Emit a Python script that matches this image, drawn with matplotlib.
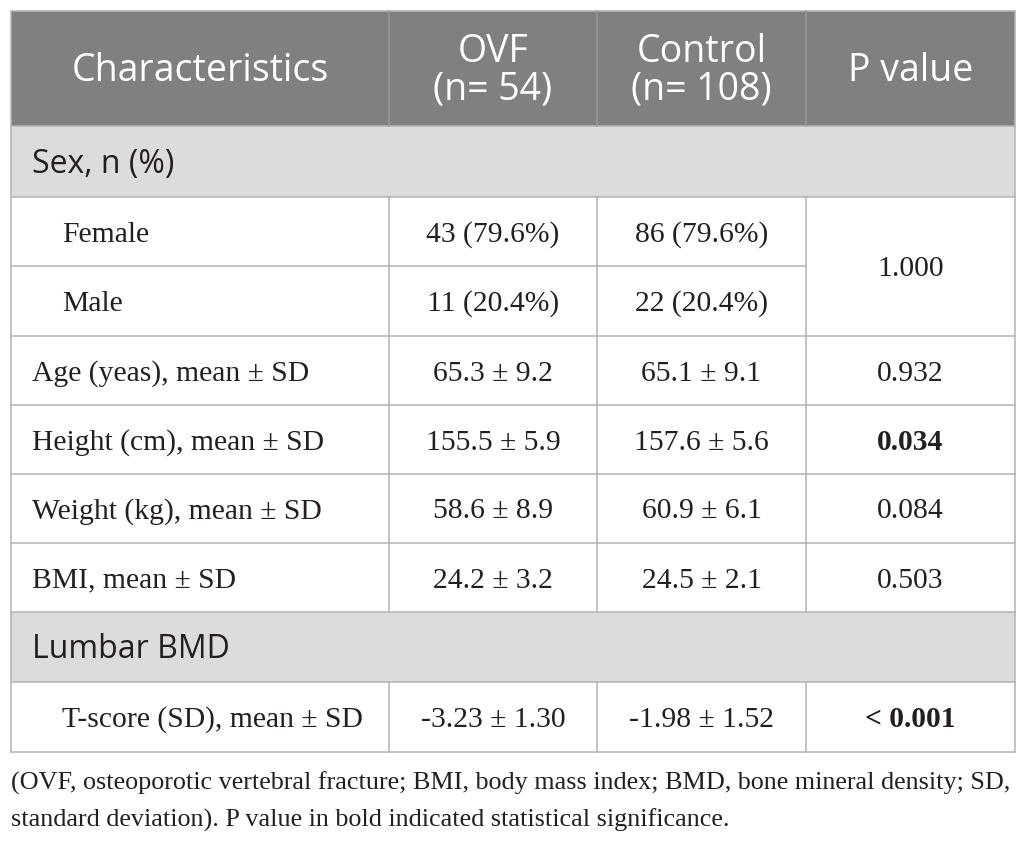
import matplotlib
matplotlib.use("Agg")
import matplotlib.pyplot as plt
from matplotlib.patches import Rectangle

# ---- data ----
header_labels = ["Characteristics", "OVF\n(n= 54)", "Control\n(n= 108)", "P value"]
characteristics = ["Sex, n (%)", "Female", "Male", "Age (yeas), mean ± SD",
                   "Height (cm), mean ± SD", "Weight (kg), mean ± SD",
                   "BMI, mean ± SD", "Lumbar BMD", "T-score (SD), mean ± SD"]
row_kind = ["section", "sub", "sub", "item", "item", "item", "item", "section", "sub"]
ovf_values = ["", "43 (79.6%)", "11 (20.4%)", "65.3 ± 9.2", "155.5 ± 5.9",
              "58.6 ± 8.9", "24.2 ± 3.2", "", "-3.23 ± 1.30"]
control_values = ["", "86 (79.6%)", "22 (20.4%)", "65.1 ± 9.1", "157.6 ± 5.6",
                  "60.9 ± 6.1", "24.5 ± 2.1", "", "-1.98 ± 1.52"]
p_values = ["", "1.000", None, "0.932", "0.034", "0.084", "0.503", "", "< 0.001"]
p_bold = [False, False, False, False, True, False, False, False, True]
footnote_lines = [
    "(OVF, osteoporotic vertebral fracture; BMI, body mass index; BMD, bone mineral density; SD,",
    "standard deviation). P value in bold indicated statistical significance.",
]

# ---- layout (pixel coordinates) ----
W, H = 1026, 841
col_x = [11, 389, 597, 806, 1015]
row_y = [11, 126, 197, 266, 336, 405, 474, 543, 612, 682, 752]

HEADER_BG = "#808080"
SECTION_BG = "#dcdcdc"
GRID = "#b3b3b3"
TEXT = "#231f20"
SANS = "Open Sans"
SERIF = "Liberation Serif"
BODY_FS = 21.3

fig = plt.figure(figsize=(W / 100, H / 100), dpi=100)
ax = fig.add_axes([0, 0, 1, 1])
ax.set_xlim(0, W)
ax.set_ylim(H, 0)
ax.axis("off")

# header background
ax.add_patch(Rectangle((col_x[0], row_y[0]), col_x[-1] - col_x[0], row_y[1] - row_y[0],
                       facecolor=HEADER_BG, edgecolor="none", zorder=0))
for j, lab in enumerate(header_labels):
    cx = (col_x[j] + col_x[j + 1]) / 2
    if "\n" in lab:
        l1, l2 = lab.split("\n")
        ax.text(cx, 62, l1, ha="center", va="baseline", color="white",
                fontsize=27, family=SANS)
        ax.text(cx, 99, l2, ha="center", va="baseline", color="white",
                fontsize=27, family=SANS)
    else:
        ax.text(cx, 81, lab, ha="center", va="baseline", color="white",
                fontsize=27, family=SANS)

lw = 1.1
# body rows
for i, lab in enumerate(characteristics):
    y0, y1 = row_y[i + 1], row_y[i + 2]
    cy = (y0 + y1) / 2
    if row_kind[i] == "section":
        ax.add_patch(Rectangle((col_x[0], y0), col_x[-1] - col_x[0], y1 - y0,
                               facecolor=SECTION_BG, edgecolor="none", zorder=0))
        ax.text(col_x[0] + 21, cy + 11.5, lab, ha="left", va="baseline", color=TEXT,
                fontsize=23, family=SANS)
        continue
    indent = 51 if row_kind[i] == "sub" else 21
    by = cy + 10
    ax.text(col_x[0] + indent, by, lab, ha="left", va="baseline", color=TEXT,
            fontsize=BODY_FS, family=SERIF)
    for j, vals in ((1, ovf_values), (2, control_values)):
        cx = (col_x[j] + col_x[j + 1]) / 2
        ax.text(cx, by, vals[i], ha="center", va="baseline", color=TEXT,
                fontsize=BODY_FS, family=SERIF)
    pv = p_values[i]
    if pv is None:
        continue
    # merged cell when following rows have no p value
    y_end = y1
    k = i + 1
    while k < len(p_values) and p_values[k] is None:
        y_end = row_y[k + 2]
        k += 1
    cx = (col_x[3] + col_x[4]) / 2
    ax.text(cx, (y0 + y_end) / 2 + 10, pv, ha="center", va="baseline", color=TEXT,
            fontsize=BODY_FS, family=SERIF, fontweight="bold" if p_bold[i] else "normal")

# horizontal grid lines
merged_lines = set()
for r, pv in enumerate(p_values):
    if pv is None:
        merged_lines.add(r + 1)  # line at top of row r in row_y index
for i in range(1, len(row_y)):
    y = row_y[i]
    x_end = col_x[3] if i in merged_lines else col_x[-1]
    ax.plot([col_x[0], x_end], [y, y], color=GRID, lw=lw, zorder=2)
ax.plot([col_x[0], col_x[-1]], [row_y[0], row_y[0]], color=GRID, lw=lw, zorder=2)

# vertical lines
ax.plot([col_x[0], col_x[0]], [row_y[0], row_y[-1]], color=GRID, lw=lw, zorder=2)
ax.plot([col_x[-1], col_x[-1]], [row_y[0], row_y[-1]], color=GRID, lw=lw, zorder=2)
for x in col_x[1:-1]:
    ax.plot([x, x], [row_y[0], row_y[1]], color="#999999", lw=lw, zorder=2)
for i, kind in enumerate(row_kind):
    if kind == "section":
        continue
    y0, y1 = row_y[i + 1], row_y[i + 2]
    for x in col_x[1:-1]:
        ax.plot([x, x], [y0, y1], color=GRID, lw=lw, zorder=2)

# footnote
for k, line in enumerate(footnote_lines):
    ax.text(col_x[0], 790 + 37 * k, line, ha="left", va="baseline", color=TEXT,
            fontsize=18.8, family=SERIF)

fig.savefig("out.png", dpi=100, facecolor="white")
